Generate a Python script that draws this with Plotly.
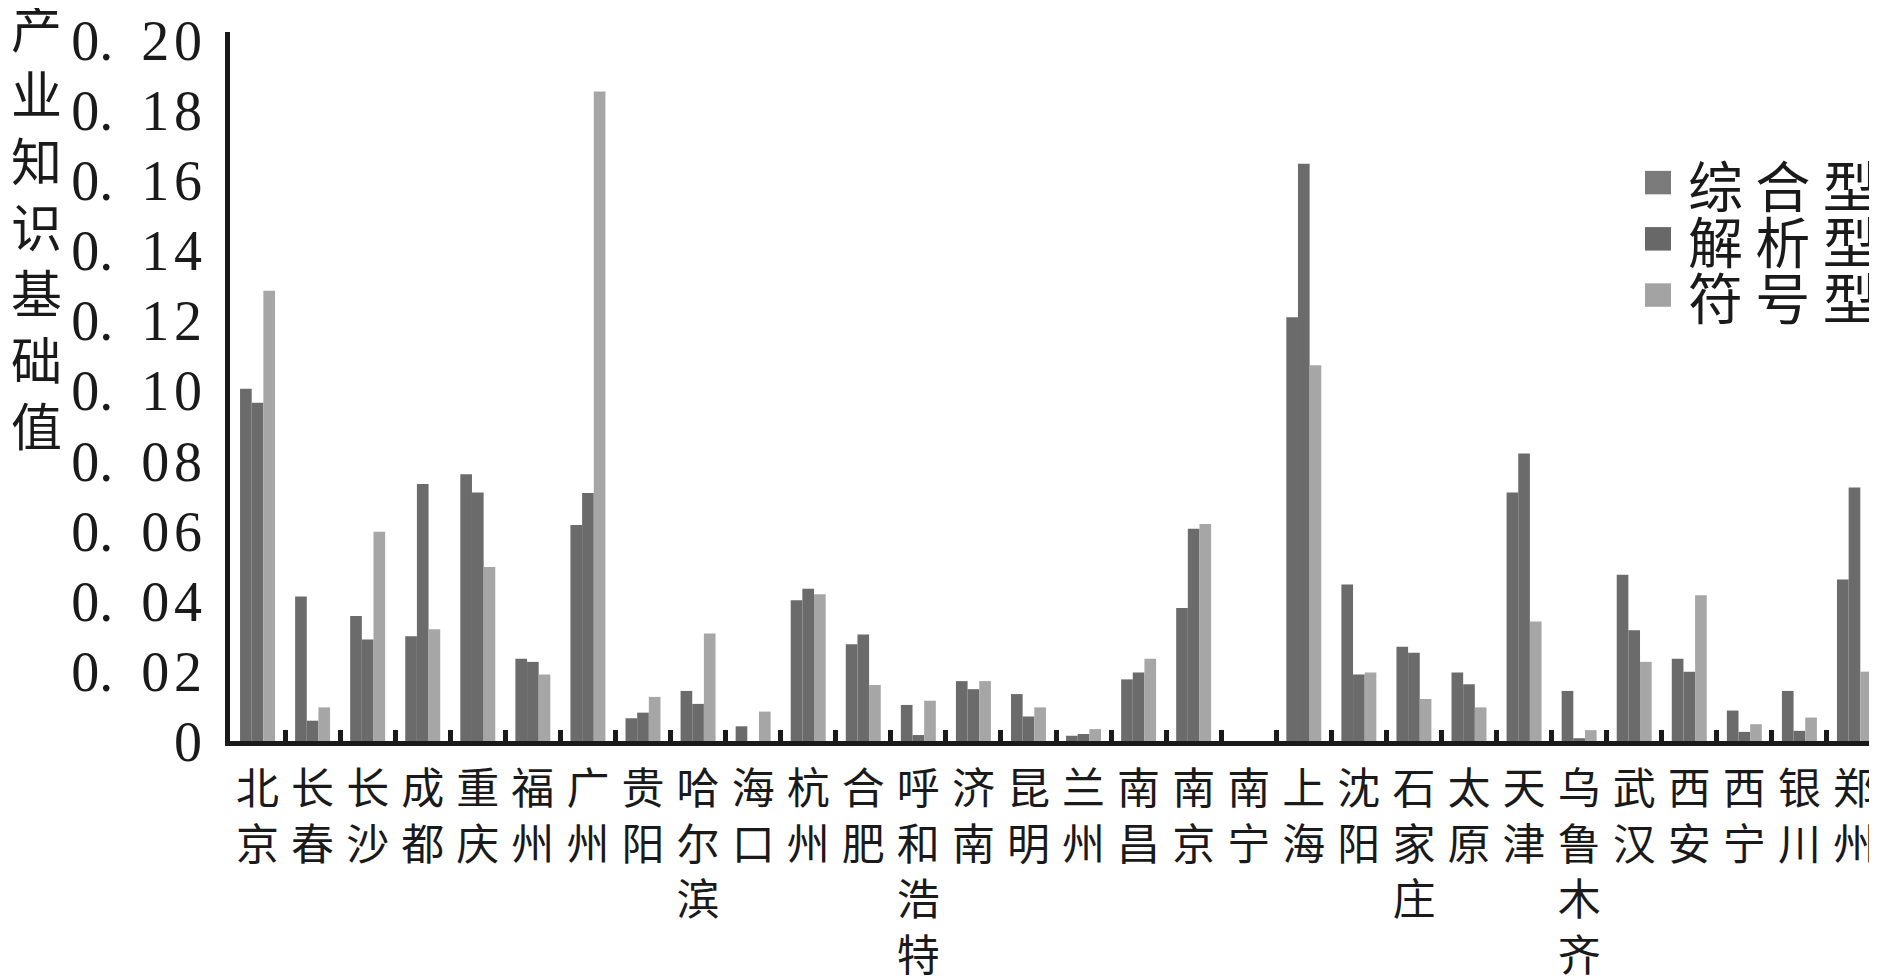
import plotly.graph_objects as go

# ---------------- data ----------------
CITIES = ["北京", "长春", "长沙", "成都", "重庆", "福州", "广州", "贵阳", "哈尔滨", "海口",
          "杭州", "合肥", "呼和浩特", "济南", "昆明", "兰州", "南昌", "南京", "南宁", "上海",
          "沈阳", "石家庄", "太原", "天津", "乌鲁木齐", "武汉", "西安", "西宁", "银川", "郑州"]

SERIES_NAMES = ["综合型", "解析型", "符号型"]

ZONGHE = [0.1006, 0.0413, 0.0357, 0.0299, 0.0762, 0.0235, 0.0617, 0.0065, 0.0143, 0.0042,
          0.0402, 0.0276, 0.0103, 0.0171, 0.0134, 0.0015, 0.0176, 0.0380, 0.0, 0.1210,
          0.0447, 0.0269, 0.0196, 0.0710, 0.0143, 0.0475, 0.0235, 0.0087, 0.0143, 0.0461]

JIEXI = [0.0966, 0.0058, 0.0290, 0.0734, 0.0710, 0.0226, 0.0708, 0.0081, 0.0106, 0.0,
         0.0435, 0.0304, 0.0017, 0.0148, 0.0070, 0.0020, 0.0196, 0.0606, 0.0, 0.1649,
         0.0190, 0.0252, 0.0162, 0.0821, 0.0008, 0.0316, 0.0198, 0.0026, 0.0029, 0.0724]

FUHAO = [0.1286, 0.0096, 0.0598, 0.0319, 0.0497, 0.0190, 0.1855, 0.0126, 0.0307, 0.0084,
         0.0419, 0.0160, 0.0115, 0.0171, 0.0096, 0.0034, 0.0235, 0.0620, 0.0, 0.1073,
         0.0196, 0.0120, 0.0096, 0.0341, 0.0031, 0.0226, 0.0416, 0.0048, 0.0067, 0.0198]

Y_TICK_VALUES = [0, 0.02, 0.04, 0.06, 0.08, 0.10, 0.12, 0.14, 0.16, 0.18, 0.20]
Y_TICK_LABELS = ["0", "0. 02", "0. 04", "0. 06", "0. 08", "0. 10",
                 "0. 12", "0. 14", "0. 16", "0. 18", "0. 20"]
Y_TITLE = "产业知识基础值"

# ---------------- styles ----------------
BAR_COLORS = ["#6b6b6b", "#6b6b6b", "#a6a6a6"]
LEGEND_COLORS = ["#7b7b7b", "#686868", "#a3a3a3"]
AXIS_COLOR = "#1a1a1a"
CJK = "Noto Sans CJK SC"
SERIF = "Liberation Serif"

W, H = 1877, 978
L, R, T, B = 222, 3, 24, 229
PW, PH = W - L - R, H - T - B


def px_x(px):
    return (px - L) / PW


def px_y(py):
    return (H - B - py) / PH


def spaced(label):
    # widen the digit spacing like the original typesetting
    if ". " not in label:
        return label
    head, digits = label.split(". ")
    return head + ".\u2002" + "\u200a".join(digits)


fig = go.Figure()
for name, vals, col in zip(SERIES_NAMES, [ZONGHE, JIEXI, FUHAO], BAR_COLORS):
    fig.add_trace(go.Bar(x=CITIES, y=vals, name=name, showlegend=False,
                         marker=dict(color=col, line=dict(width=0))))

fig.update_layout(
    width=W, height=H,
    margin=dict(l=L, r=R, t=T, b=B, pad=0),
    paper_bgcolor="white", plot_bgcolor="white",
    barmode="group", bargap=0.365, bargroupgap=0,
    showlegend=False,
    font=dict(family=CJK, color=AXIS_COLOR),
)

fig.update_xaxes(
    type="category",
    tickmode="array", tickvals=CITIES, ticktext=["<br>".join(c) for c in CITIES],
    tickangle=0,
    tickfont=dict(family=CJK, size=43, color=AXIS_COLOR),
    showline=True, linewidth=5, linecolor=AXIS_COLOR,
    ticks="inside", tickson="boundaries", ticklen=11, tickwidth=4.5, tickcolor=AXIS_COLOR,
    showgrid=False, zeroline=False,
    ticklabelstandoff=6,
)

fig.update_yaxes(
    range=[0, 0.2025],
    tickmode="array", tickvals=Y_TICK_VALUES, ticktext=[spaced(s) for s in Y_TICK_LABELS],
    tickfont=dict(family=SERIF, size=56, color=AXIS_COLOR),
    showline=True, linewidth=4.5, linecolor=AXIS_COLOR,
    ticks="", showgrid=False, zeroline=False,
    ticklabelstandoff=12,
)

# vertical y-axis title
fig.add_annotation(
    text="<br>".join(Y_TITLE), xref="paper", yref="paper",
    x=px_x(28), y=px_y(-22), xanchor="center", yanchor="top",
    showarrow=False, align="center",
    font=dict(family=CJK, size=51, color=AXIS_COLOR),
)

# legend (drawn as layout decoration)
LEG_X0, LEG_SQ_W, LEG_SQ_H = 1637, 26, 24
LEG_TEXT_X = 1678
LEG_TOP, LEG_PITCH = 178, 57.5
for i, (name, col) in enumerate(zip(SERIES_NAMES, LEGEND_COLORS)):
    cy = LEG_TOP + i * LEG_PITCH
    fig.add_shape(type="rect", xref="paper", yref="paper",
                  x0=px_x(LEG_X0), x1=px_x(LEG_X0 + LEG_SQ_W),
                  y0=px_y(cy + LEG_SQ_H / 2), y1=px_y(cy - LEG_SQ_H / 2),
                  fillcolor=col, line=dict(width=0), layer="above")
    fig.add_annotation(text=" ".join(name), xref="paper", yref="paper",
                       x=px_x(LEG_TEXT_X), y=px_y(cy), xanchor="left", yanchor="middle",
                       showarrow=False, font=dict(family=CJK, size=55, color=AXIS_COLOR))

fig.write_html("out.html")
